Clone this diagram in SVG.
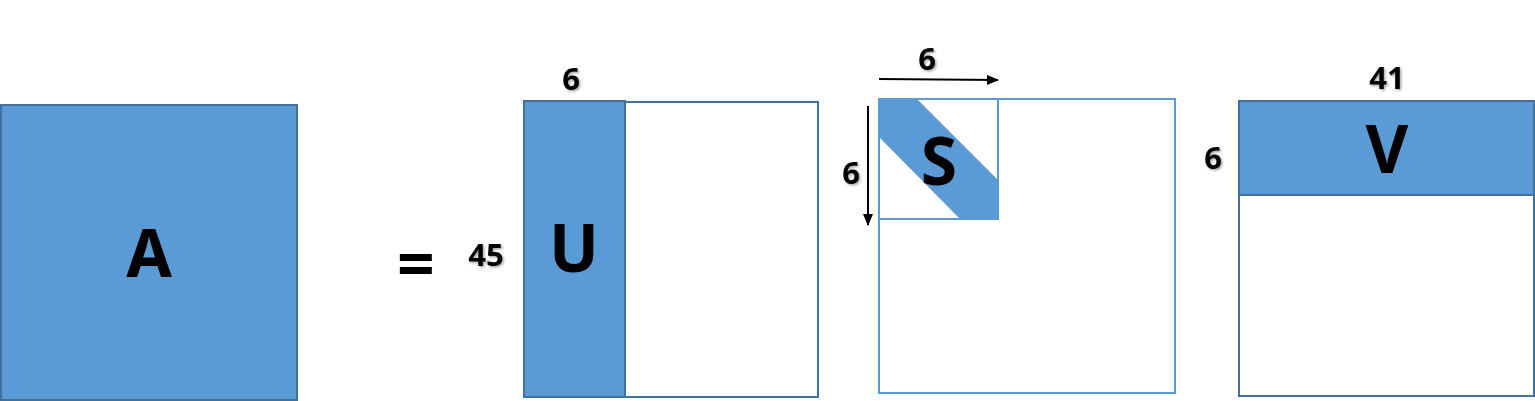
<svg xmlns="http://www.w3.org/2000/svg" width="1535" height="401" viewBox="0 0 1535 401">
<style>
.blk{fill:#5B9BD5;stroke:#41719C;stroke-width:2}
.frm{fill:#FFFFFF;stroke:#41719C;stroke-width:2}
.frs{fill:none;stroke:#5B9BD5;stroke-width:2}
.big{font-family:"Noto Sans","Open Sans",sans-serif;font-weight:bold;font-size:66px;fill:#000;text-anchor:middle}
.num{font-family:"Noto Sans","Open Sans",sans-serif;font-weight:bold;font-size:31px;fill:#000;text-anchor:middle;filter:url(#sh)}
.arr{stroke:#000;stroke-width:2;fill:none;marker-end:url(#ah)}
</style>
<defs>
<filter id="sh" x="-30%" y="-30%" width="160%" height="160%">
<feDropShadow dx="1.5" dy="1.5" stdDeviation="1.2" flood-color="#000" flood-opacity="0.35"/>
</filter>
<marker id="ah" markerWidth="12" markerHeight="10" refX="11" refY="5" orient="auto" markerUnits="userSpaceOnUse">
<path d="M0,0 L12,5 L0,10 Z" fill="#000"/>
</marker>
</defs>
<g id="A">
<rect class="blk" x="1" y="105" width="296" height="295"/>
<text class="big" x="149" y="277">A</text>
</g>
<g id="eq">
<text class="big" x="416" y="288" font-size="76">=</text>
<text class="num" x="486" y="266">45</text>
</g>
<g id="U">
<rect class="frm" x="524" y="102" width="294" height="295"/>
<rect class="blk" x="524" y="101" width="101" height="296"/>
<text class="big" x="574" y="272">U</text>
<text class="num" x="571" y="90">6</text>
</g>
<g id="S">
<rect class="frs" x="879" y="99" width="296" height="294"/>
<polygon points="880,100 918,100 998,180 998,219 960,219 880,138" fill="#5B9BD5"/>
<rect class="frs" x="879" y="99" width="119" height="120"/>
<text class="big" x="939" y="185">S</text>
<text class="num" x="927" y="70">6</text>
<text class="num" x="851" y="184">6</text>
</g>
<g id="V">
<rect class="frm" x="1239" y="101" width="295" height="295"/>
<rect class="blk" x="1239" y="101" width="295" height="94"/>
<text class="big" x="1387" y="173">V</text>
<text class="num" x="1387" y="89">41</text>
<text class="num" x="1213" y="169">6</text>
</g>
<g id="connectors">
<line class="arr" x1="879" y1="79" x2="998" y2="80"/>
<line class="arr" x1="868" y1="106" x2="868" y2="225"/>
</g>
</svg>
